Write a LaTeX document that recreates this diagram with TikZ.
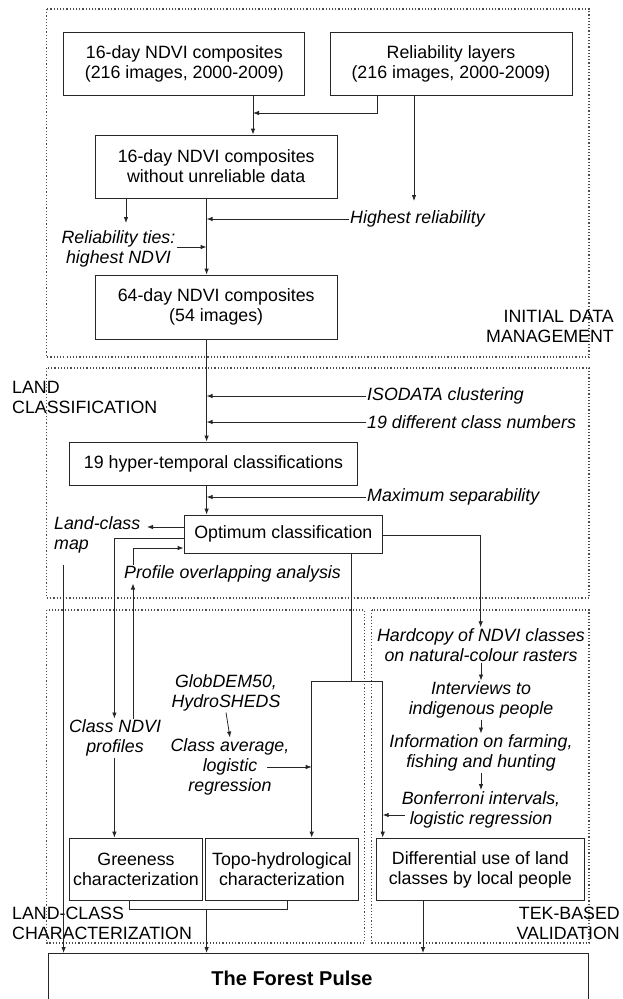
\documentclass[tikz,border=0pt]{standalone}
\usepackage{fontspec}
\setmainfont{Liberation Sans}
\usetikzlibrary{arrows.meta,calc}
\begin{document}
\begin{tikzpicture}[x=1pt,y=-1pt,
  font=\fontsize{17.8}{20}\selectfont,
  ln/.style={line width=0.8pt, draw=black!85},
  arr/.style={ln,-{Latex[length=6pt,width=4.5pt]}},
  box/.style={draw=black!85,line width=0.8pt,rectangle,align=center,inner sep=0pt},
  it/.style={font=\fontsize{17.8}{20}\selectfont\itshape,align=center,inner sep=1pt},
  lab/.style={align=left,inner sep=0pt},
  region/.style={dotted,line width=1.2pt,draw=black!70}]
\useasboundingbox (0,0) rectangle (623,999);

% regions
\draw[region] (46.5,9) rectangle (589,357);
\draw[region] (46.5,368) rectangle (589,598);
\draw[region] (46.5,610) rectangle (364.7,943);
\draw[region] (371.5,610) rectangle (589,943);

% boxes
\node[box,minimum width=241pt,minimum height=63pt] (A) at (184.3,63.7) {16-day NDVI composites\\(216 images, 2000-2009)};
\node[box,minimum width=242pt,minimum height=63pt] (B) at (451,63.7) {Reliability layers\\(216 images, 2000-2009)};
\node[box,minimum width=241.6pt,minimum height=63pt] (C) at (216.2,166.5) {16-day NDVI composites\\without unreliable data};
\node[box,minimum width=241.6pt,minimum height=64pt] (D) at (216.2,307) {64-day NDVI composites\\(54 images)};
\node[box,minimum width=288pt,minimum height=43pt] (E) at (213.5,463.5) {19 hyper-temporal classifications};
\node[box,minimum width=198.6pt,minimum height=38pt] (F) at (283.3,534) {Optimum classification};
\node[box,minimum width=133pt,minimum height=62.7pt] (Gr) at (136,869.4) {Greeness\\characterization};
\node[box,minimum width=153pt,minimum height=62.7pt] (Topo) at (281.9,869.4) {Topo-hydrological\\characterization};
\node[box,minimum width=207.4pt,minimum height=62.7pt] (Diff) at (480.3,869.4) {Differential use of land\\classes by local people};
\node[box,minimum width=540.3pt,minimum height=60pt,anchor=north west] (FP) at (47.7,953) {};
\node[font=\fontsize{20}{24}\selectfont\bfseries] (fpt) at (292,978) {The Forest Pulse};

% italic labels
\node[it,anchor=west] (hrt) at (349,219) {Highest reliability};
\node[it] (rt) at (118.5,249) {Reliability ties:\\highest NDVI};
\node[it,anchor=west] (iso) at (366,396) {ISODATA clustering};
\node[it,anchor=west] (cls) at (366,422) {19 different class numbers};
\node[it,anchor=west] (msep) at (366,497) {Maximum separability};
\node[it,anchor=west,align=left] (lcm) at (53,535) {Land-class\\map};
\node[it] (pot) at (232.5,574) {Profile overlapping analysis};
\node[it] (cnp) at (115,738) {Class NDVI\\profiles};
\node[it] (glob) at (226,693) {GlobDEM50,\\HydroSHEDS};
\node[it] (cavg) at (230,767) {Class average,\\logistic\\regression};
\node[it] (hard) at (481,645) {Hardcopy of NDVI classes\\on natural-colour rasters};
\node[it] (intv) at (481,700) {Interviews to\\indigenous people};
\node[it] (info) at (481,753) {Information on farming,\\fishing and hunting};
\node[it] (bonf) at (481,809.5) {Bonferroni intervals,\\logistic regression};

% region labels
\node[lab,anchor=east,align=right] (lidm) at (614,326.5) {INITIAL DATA\\MANAGEMENT};
\node[lab,anchor=west] (llc) at (12,397) {LAND\\CLASSIFICATION};
\node[lab,anchor=west] (llcc) at (12,923) {LAND-CLASS\\CHARACTERIZATION};
\node[lab,anchor=east,align=right] (ltek) at (620,923) {TEK-BASED\\VALIDATION};

% coordinates
\coordinate (m) at (206.6,0);
\coordinate (j1) at (253,113);
\coordinate (j2) at (377.5,113);
\coordinate (hr) at (414,201);
\coordinate (rtc) at (126,223);
\coordinate (rtb) at (177,247);
\coordinate (f1) at (184,527);
\coordinate (lcmA) at (147,527);
\coordinate (c1) at (114.4,538);
\coordinate (p1) at (133,0);
\coordinate (f2) at (184,548);
\coordinate (lm) at (63.6,565);
\coordinate (s1) at (351.6,681);
\coordinate (s2) at (311.7,681);
\coordinate (s3) at (382.7,681);
\coordinate (h1) at (480.7,535);
\coordinate (b1) at (405,815);
\coordinate (ca) at (267,767);
\coordinate (k1) at (129,909);
\coordinate (k2) at (287,909);
\coordinate (d1) at (423,0);

% connectors
\draw[arr] (A.south -| j1) -- (C.north -| j1);
\draw[arr] (B.south -| j2) -- (j2) -- (j1);
\draw[arr] (B.south -| hr) -- (hr);
\draw[arr] (hrt.west) -- (hrt.west -| m);
\draw[arr] (C.south -| rtc) -- (rtc);
\draw[arr] (rtb) -- (rtb -| m);
\draw[arr] (C.south -| m) -- (D.north -| m);
\draw[arr] (D.south -| m) -- (E.north -| m);
\draw[arr] (iso.west) -- (iso.west -| m);
\draw[arr] (cls.west) -- (cls.west -| m);
\draw[arr] (E.south -| m) -- (F.north -| m);
\draw[arr] (msep.west) -- (msep.west -| m);
\draw[arr] (F.west |- f1) -- (lcmA);
\draw[arr] (F.west |- c1) -- (c1) -- (c1 |- cnp.north);
\draw[arr] (cnp.north -| p1) -- (pot.south -| p1);
\draw[arr] (pot.north -| p1) -- (p1 |- f2) -- (F.west |- f2);
\draw[arr] (lm) -- (lm |- FP.north);
\draw[ln] (F.south -| s1) -- (s1);
\draw[arr] (s1) -- (s2) -- (s2 |- Topo.north);
\draw[arr] (s1) -- (s3) -- (s3 |- Diff.north);
\draw[arr] (F.east |- h1) -- (h1) -- (h1 |- hard.north);
\draw[arr] (hard.south) -- (intv.north);
\draw[arr] (intv.south) -- (info.north);
\draw[arr] (info.south) -- (bonf.north);
\draw[arr] (b1) -- (b1 -| s3);
\draw[arr] (glob.south) -- (cavg.north);
\draw[arr] (ca) -- (ca -| s2);
\draw[arr] (cnp.south -| c1) -- (Gr.north -| c1);
\draw[ln] (Gr.south -| k1) -- (k1) -- (k2) -- (Topo.south -| k2);
\draw[arr] (k1 -| m) -- (FP.north -| m);
\draw[arr] (Diff.south -| d1) -- (FP.north -| d1);
\end{tikzpicture}
\end{document}
